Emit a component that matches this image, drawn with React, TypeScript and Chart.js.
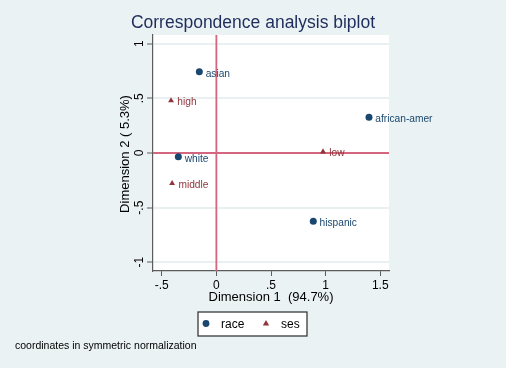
import React, { useEffect, useRef } from "react";
import { Chart, registerables } from "chart.js";

Chart.register(...registerables);

// ---- data ----
const raceLabels = ["asian", "african-amer", "white", "hispanic"];
const raceX = [-0.156, 1.397, -0.348, 0.887];
const raceY = [0.743, 0.327, -0.034, -0.624];

const sesLabels = ["high", "low", "middle"];
const sesX = [-0.415, 0.976, -0.405];
const sesY = [0.48, 0.012, -0.278];

const xTicks = [-0.5, 0, 0.5, 1, 1.5];
const xTickLabels = ["-.5", "0", ".5", "1", "1.5"];
const yTicks = [-1, -0.5, 0, 0.5, 1];
const yTickLabels = ["-1", "-.5", "0", ".5", "1"];

const titleText = "Correspondence analysis biplot";
const xTitle = "Dimension 1  (94.7%)";
const yTitle = "Dimension 2 ( 5.3%)";
const noteText = "coordinates in symmetric normalization";
const legendNames = ["race", "ses"];

// ---- styles ----
const FONT = "'Liberation Sans', Arial, Helvetica, sans-serif";
const BG = "#eaf2f3";
const RACE_COLOR = "#1a476f";
const SES_COLOR = "#90353b";
const REF_COLOR = "#d5667f";
const AXIS_COLOR = "#5c5c5c";

const overlay = {
  id: "stataOverlay",
  beforeDraw(chart: any) {
    const { ctx, chartArea: a } = chart;
    ctx.save();
    ctx.fillStyle = BG;
    ctx.fillRect(0, 0, chart.width, chart.height);
    ctx.fillStyle = "#ffffff";
    ctx.fillRect(a.left, a.top, a.right - a.left, a.bottom - a.top);
    ctx.restore();
  },
  beforeDatasetsDraw(chart: any) {
    const { ctx, chartArea: a, scales } = chart;
    const x0 = scales.x.getPixelForValue(0);
    const y0 = scales.y.getPixelForValue(0);
    ctx.save();
    ctx.strokeStyle = REF_COLOR;
    ctx.lineWidth = 1.8;
    ctx.beginPath();
    ctx.moveTo(x0, a.top);
    ctx.lineTo(x0, a.bottom);
    ctx.moveTo(a.left, y0);
    ctx.lineTo(a.right, y0);
    ctx.stroke();
    ctx.restore();
  },
  afterDatasetsDraw(chart: any) {
    const { ctx, scales, chartArea: a } = chart;
    const xs = scales.x;
    const ys = scales.y;
    ctx.save();
    // point labels
    ctx.font = `10.2px ${FONT}`;
    ctx.textAlign = "left";
    ctx.textBaseline = "middle";
    const groups = [
      { labels: raceLabels, xv: raceX, yv: raceY, color: RACE_COLOR },
      { labels: sesLabels, xv: sesX, yv: sesY, color: SES_COLOR },
    ];
    groups.forEach((g) => {
      ctx.fillStyle = g.color;
      g.labels.forEach((lab, i) => {
        const px = xs.getPixelForValue(g.xv[i]);
        const py = ys.getPixelForValue(g.yv[i]);
        ctx.fillText(lab, px + 6.3, py + 2);
      });
    });

    // x tick labels
    ctx.fillStyle = "#000";
    ctx.font = `12px ${FONT}`;
    ctx.textAlign = "center";
    ctx.textBaseline = "alphabetic";
    xTicks.forEach((v, i) => {
      ctx.fillText(xTickLabels[i], xs.getPixelForValue(v), a.bottom + 18);
    });
    // y tick labels (rotated)
    yTicks.forEach((v, i) => {
      ctx.save();
      ctx.translate(a.left - 10.5, ys.getPixelForValue(v));
      ctx.rotate(-Math.PI / 2);
      ctx.fillText(yTickLabels[i], 0, 0);
      ctx.restore();
    });

    // axis titles
    ctx.font = `13px ${FONT}`;
    ctx.fillText(xTitle, (a.left + a.right) / 2, a.bottom + 30);
    ctx.save();
    ctx.translate(a.left - 24, (a.top + a.bottom) / 2 + 1);
    ctx.rotate(-Math.PI / 2);
    ctx.fillText(yTitle, 0, 0);
    ctx.restore();

    // title
    ctx.fillStyle = "#1e2d5c";
    ctx.font = `17.5px ${FONT}`;
    ctx.fillText(titleText, chart.width / 2, 28.3);

    // legend box
    const lx = 198, ly = 312, lw = 109, lh = 24;
    ctx.fillStyle = "#ffffff";
    ctx.fillRect(lx, ly, lw, lh);
    ctx.strokeStyle = "#3a3a3a";
    ctx.lineWidth = 1.3;
    ctx.strokeRect(lx, ly, lw, lh);
    ctx.fillStyle = RACE_COLOR;
    ctx.beginPath();
    ctx.arc(206, 323.5, 3.4, 0, Math.PI * 2);
    ctx.fill();
    ctx.fillStyle = SES_COLOR;
    ctx.beginPath();
    ctx.moveTo(266, 320);
    ctx.lineTo(269.2, 325.6);
    ctx.lineTo(262.8, 325.6);
    ctx.closePath();
    ctx.fill();
    ctx.fillStyle = "#000";
    ctx.font = `12px ${FONT}`;
    ctx.textAlign = "left";
    ctx.textBaseline = "middle";
    ctx.fillText(legendNames[0], 221, 325);
    ctx.fillText(legendNames[1], 281, 325);

    // note
    ctx.font = `10.5px ${FONT}`;
    ctx.fillText(noteText, 15, 346.5);
    ctx.restore();
  },
};

export default function App() {
  const ref = useRef<HTMLCanvasElement | null>(null);
  useEffect(() => {
    if (!ref.current) return;
    const chart = new Chart(ref.current, {
      type: "scatter",
      data: {
        datasets: [
          {
            label: legendNames[0],
            data: raceX.map((x, i) => ({ x, y: raceY[i] })),
            pointStyle: "circle",
            pointRadius: 3.5,
            backgroundColor: RACE_COLOR,
            borderColor: RACE_COLOR,
            borderWidth: 0,
          },
          {
            label: legendNames[1],
            data: sesX.map((x, i) => ({ x, y: sesY[i] })),
            pointStyle: "triangle",
            pointRadius: 3.4,
            backgroundColor: SES_COLOR,
            borderColor: SES_COLOR,
            borderWidth: 0,
          },
        ],
      },
      options: {
        animation: false,
        responsive: false,
        events: [],
        layout: { padding: { left: 113, right: 117, top: 35, bottom: 57 } },
        plugins: {
          legend: { display: false },
          title: { display: false },
          tooltip: { enabled: false },
        },
        scales: {
          x: {
            type: "linear",
            min: -0.58,
            max: 1.58,
            afterBuildTicks: (s: any) => {
              s.ticks = xTicks.map((v) => ({ value: v }));
            },
            afterFit: (s: any) => {
              s.height = 40;
            },
            ticks: { display: false },
            grid: {
              drawOnChartArea: false,
              drawTicks: true,
              tickLength: 5,
              tickColor: AXIS_COLOR,
              tickWidth: 1,
            },
            border: { display: true, color: AXIS_COLOR, width: 1.2 },
          },
          y: {
            type: "linear",
            min: -1.08,
            max: 1.08,
            afterBuildTicks: (s: any) => {
              s.ticks = yTicks.map((v) => ({ value: v }));
            },
            afterFit: (s: any) => {
              s.width = 40;
            },
            ticks: { display: false },
            grid: {
              drawOnChartArea: true,
              color: "#e9f0f2",
              lineWidth: 2,
              drawTicks: true,
              tickLength: 6,
              tickColor: AXIS_COLOR,
              tickWidth: 1,
            },
            border: { display: true, color: AXIS_COLOR, width: 1.2 },
          },
        },
      },
      plugins: [overlay],
    });
    return () => chart.destroy();
  }, []);
  return (
    <div style={{ position: "fixed", left: 0, top: 0, width: 506, height: 368, background: BG }}>
      <canvas ref={ref} width={506} height={368} style={{ display: "block" }} />
    </div>
  );
}
